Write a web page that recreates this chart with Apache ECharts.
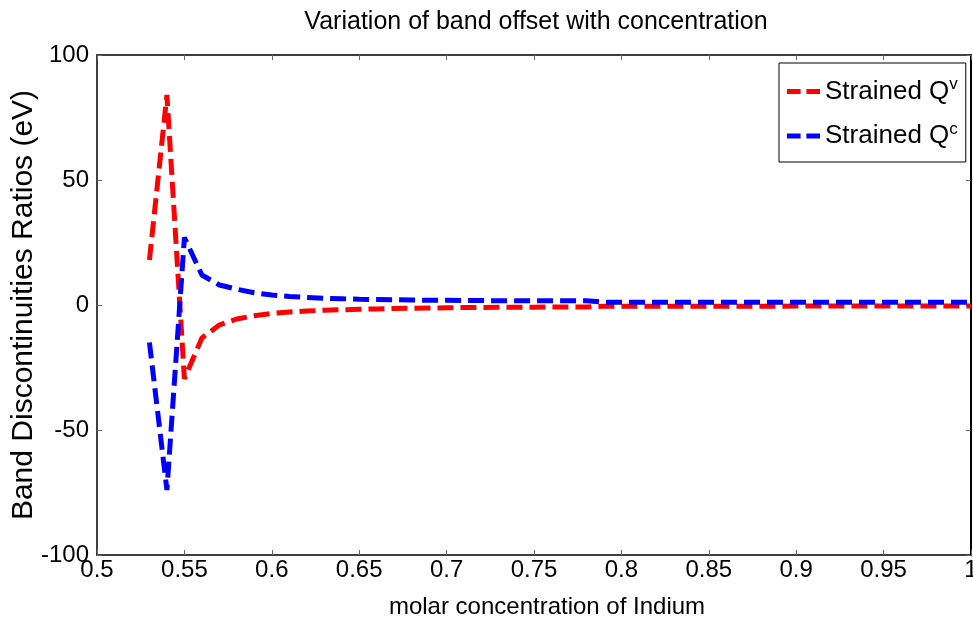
<!DOCTYPE html>
<html>
<head>
<meta charset="UTF-8">
<title>Variation of band offset with concentration</title>
<script src="https://cdn.jsdelivr.net/npm/echarts@6/dist/echarts.min.js"></script>
<style>
  html, body { margin: 0; padding: 0; background: #fff; }
  #chart { width: 973px; height: 625px; }
</style>
</head>
<body>
<div id="chart"></div>
<script>
// molar concentration of Indium
var xValues = [0.53, 0.54, 0.55, 0.56, 0.57, 0.58, 0.59, 0.60, 0.61, 0.62,
               0.63, 0.64, 0.65, 0.66, 0.67, 0.68, 0.69, 0.70, 0.71, 0.72,
               0.73, 0.74, 0.75, 0.76, 0.77, 0.78, 0.79, 0.80, 0.81, 0.82,
               0.83, 0.84, 0.85, 0.86, 0.87, 0.88, 0.89, 0.90, 0.91, 0.92,
               0.93, 0.94, 0.95, 0.96, 0.97, 0.98, 0.99, 1.00];
// Strained Q^v
var qv = [18, 84, -29.5, -13.2, -8.0, -5.6, -4.3, -3.4, -2.8, -2.4,
          -2.1, -1.9, -1.7, -1.6, -1.4, -1.3, -1.2, -1.1, -1.0, -1.0,
          -0.9, -0.9, -0.9, -0.8, -0.8, -0.8, -0.5, -0.5, -0.5, -0.5,
          -0.5, -0.5, -0.5, -0.5, -0.5, -0.5, -0.5, -0.4, -0.4, -0.4,
          -0.4, -0.4, -0.4, -0.4, -0.4, -0.4, -0.4, -0.4];
// Strained Q^c
var qc = [-15, -74, 27, 12, 8, 6.3, 4.9, 4.0, 3.4, 3.0,
          2.7, 2.5, 2.3, 2.2, 2.1, 2.0, 1.9, 1.9, 1.8, 1.8,
          1.7, 1.7, 1.7, 1.7, 1.7, 1.7, 1.1, 1.1, 1.1, 1.1,
          1.1, 1.1, 1.1, 1.1, 1.1, 1.1, 1.1, 1.1, 1.1, 1.1,
          1.1, 1.1, 1.1, 1.1, 1.1, 1.1, 1.1, 1.1];

var seriesNames = ['Strained Qv', 'Strained Qc'];
var seriesColors = ['#ff0000', '#0000ff'];

var font = "'Liberation Sans', Arial, sans-serif";

function pairs(ys) {
    return xValues.map(function(x, i) { return [x, ys[i]]; });
}

var chart = echarts.init(document.getElementById('chart'));

var tickStyle = { show: true, inside: true, length: 5, lineStyle: { color: '#666', width: 1 } };

var option = {
    backgroundColor: '#fff',
    animation: false,
    textStyle: { fontFamily: font, color: '#000' },
    title: {
        text: 'Variation of band offset with concentration',
        left: 531,
        textAlign: 'center',
        top: 5,
        textStyle: { fontFamily: font, fontSize: 25, fontWeight: 'normal', color: '#000' }
    },
    grid: { left: 97, right: 2, top: 55, bottom: 70, outerBoundsMode: 'none' },
    legend: {
        left: 779,
        top: 63,
        width: 170,
        orient: 'vertical',
        // two short dashes, like the plotted line style
        icon: 'path://M0,0h14v5h-14z M20,0h14v5h-14z',
        itemWidth: 33,
        itemHeight: 5,
        itemGap: 16,
        padding: [13, 8, 13, 8],
        backgroundColor: '#fff',
        borderColor: '#000',
        borderWidth: 1,
        data: seriesNames,
        formatter: function(name) {
            return name === 'Strained Qv' ? '{a|Strained Q}{s|v}' : '{a|Strained Q}{s|c}';
        },
        textStyle: {
            rich: {
                a: { fontFamily: font, fontSize: 26, color: '#000' },
                s: { fontFamily: font, fontSize: 17, color: '#000', padding: [0, 0, 14, 0] }
            }
        }
    },
    xAxis: [{
        type: 'value',
        min: 0.5,
        max: 1,
        interval: 0.05,
        name: 'molar concentration of Indium',
        nameLocation: 'middle',
        nameGap: 40,
        nameMoveOverlap: false,
        nameTextStyle: { fontFamily: font, fontSize: 24, color: '#000', padding: [0, 0, 0, 26] },
        axisLine: { show: true, onZero: false, lineStyle: { color: '#000', width: 1.5 } },
        axisTick: tickStyle,
        splitLine: { show: false },
        axisLabel: {
            fontFamily: font, fontSize: 24, color: '#000', margin: 3,
            formatter: function(v) { return String(+v.toFixed(2)); }
        }
    }, {
        type: 'value',
        position: 'top',
        min: 0.5,
        max: 1,
        interval: 0.05,
        axisLine: { show: true, onZero: false, lineStyle: { color: '#000', width: 1.5 } },
        axisTick: tickStyle,
        axisLabel: { show: false },
        splitLine: { show: false }
    }],
    yAxis: [{
        type: 'value',
        min: -100,
        max: 100,
        interval: 50,
        name: 'Band Discontinuities Ratios (eV)',
        nameLocation: 'middle',
        nameGap: 58,
        nameMoveOverlap: false,
        nameTextStyle: { fontFamily: font, fontSize: 30, color: '#000' },
        axisLine: { show: true, onZero: false, lineStyle: { color: '#000', width: 1.5 } },
        axisTick: tickStyle,
        splitLine: { show: false },
        axisLabel: { fontFamily: font, fontSize: 24, color: '#000', margin: 8 }
    }, {
        type: 'value',
        position: 'right',
        min: -100,
        max: 100,
        interval: 50,
        axisLine: { show: true, onZero: false, lineStyle: { color: '#000', width: 2 } },
        axisTick: tickStyle,
        axisLabel: { show: false },
        splitLine: { show: false }
    }],
    series: [{
        name: seriesNames[0],
        type: 'line',
        data: pairs(qv),
        symbol: 'none',
        color: seriesColors[0],
        lineStyle: { color: seriesColors[0], width: 5, type: [16, 7] }
    }, {
        name: seriesNames[1],
        type: 'line',
        data: pairs(qc),
        symbol: 'none',
        color: seriesColors[1],
        lineStyle: { color: seriesColors[1], width: 5, type: [16, 7] }
    }]
};

chart.setOption(option);
</script>
</body>
</html>
